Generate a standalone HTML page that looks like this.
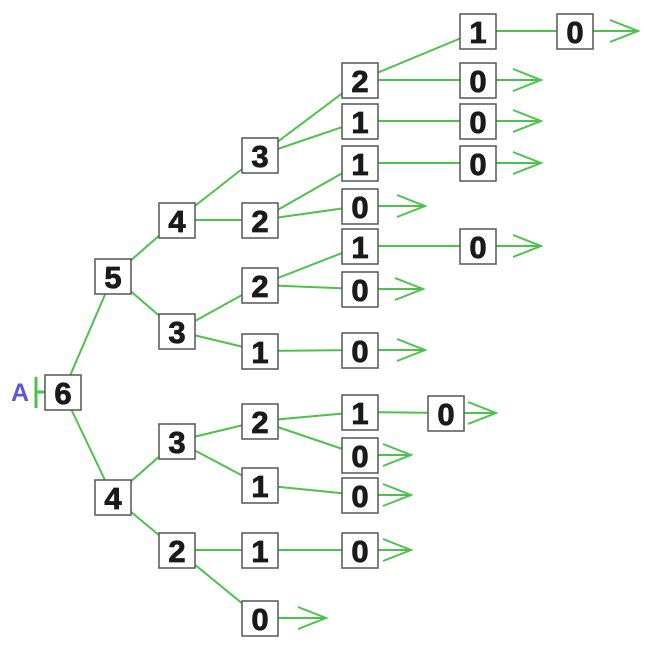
<!DOCTYPE html>
<html><head><style>body{margin:0;background:#fff}svg{display:block}</style></head><body>
<svg width="645" height="647" xmlns="http://www.w3.org/2000/svg">
<g stroke="#4cc24c" stroke-width="2" fill="none" id="e">
<path d="M63 392L113 276M63 392L113 497M113 276L177 220M113 276L177 331M177 220L260 155M177 220L260 220M260 155L360 80M260 155L360 121M360 80L478 31M360 80L478 80M478 31L575 31M360 121L478 121M260 220L360 163M260 220L360 206M360 163L478 163M177 331L260 285M177 331L260 351M260 285L360 246M260 285L360 289M360 246L478 246M260 351L360 350M113 497L177 441M113 497L177 550M177 441L260 421M177 441L260 485M260 421L360 412M260 421L360 455M360 412L446 413M260 485L360 495M177 550L260 550M177 550L260 618M260 550L360 550"/>
<path d="M593 31H638M610 20L638 31L610 42"/>
<path d="M496 80H541M513 69L541 80L513 91"/>
<path d="M496 121H541M513 110L541 121L513 132"/>
<path d="M496 163H541M513 152L541 163L513 174"/>
<path d="M378 206H425M397 195L425 206L397 217"/>
<path d="M496 246H541M513 235L541 246L513 257"/>
<path d="M378 289H423M395 278L423 289L395 300"/>
<path d="M378 350H425M397 339L425 350L397 361"/>
<path d="M464 413H496M468 402L496 413L468 424"/>
<path d="M378 455H411M383 444L411 455L383 466"/>
<path d="M378 495H411M383 484L411 495L383 506"/>
<path d="M378 550H411M383 539L411 550L383 561"/>
<path d="M278 618H326M298 607L326 618L298 629"/>
<path d="M36 377V408M36 392H45" stroke-width="3"/>
</g>
<text x="11" y="401" font-family="Liberation Sans,sans-serif" font-weight="bold" font-size="25" fill="#5a5ad8">A</text>
<g font-family="Liberation Sans,sans-serif" font-weight="bold" font-size="31" fill="#1a1a1a" text-anchor="middle">
<g stroke="#555" stroke-width="1.5" fill="#fff">
<rect x="45" y="375" width="36" height="35"/><rect x="95" y="259" width="36" height="35"/><rect x="95" y="480" width="36" height="35"/>
<rect x="159" y="203" width="36" height="35"/><rect x="159" y="314" width="36" height="35"/><rect x="159" y="424" width="36" height="35"/><rect x="159" y="533" width="36" height="35"/>
<rect x="242" y="138" width="36" height="35"/><rect x="242" y="203" width="36" height="35"/><rect x="242" y="268" width="36" height="35"/><rect x="242" y="334" width="36" height="35"/><rect x="242" y="404" width="36" height="35"/><rect x="242" y="468" width="36" height="35"/><rect x="242" y="533" width="36" height="35"/><rect x="242" y="601" width="36" height="35"/>
<rect x="342" y="63" width="36" height="35"/><rect x="342" y="104" width="36" height="35"/><rect x="342" y="146" width="36" height="35"/><rect x="342" y="189" width="36" height="35"/><rect x="342" y="229" width="36" height="35"/><rect x="342" y="272" width="36" height="35"/><rect x="342" y="333" width="36" height="35"/><rect x="342" y="395" width="36" height="35"/><rect x="342" y="438" width="36" height="35"/><rect x="342" y="478" width="36" height="35"/><rect x="342" y="533" width="36" height="35"/>
<rect x="460" y="14" width="36" height="35"/><rect x="460" y="63" width="36" height="35"/><rect x="460" y="104" width="36" height="35"/><rect x="460" y="146" width="36" height="35"/><rect x="460" y="229" width="36" height="35"/><rect x="428" y="396" width="36" height="35"/>
<rect x="557" y="14" width="36" height="35"/>
</g>
<g stroke="#1a1a1a" stroke-width="0.8">
<text x="63" y="404">6</text><text x="113" y="288">5</text><text x="113" y="509">4</text>
<text x="177" y="232">4</text><text x="177" y="343">3</text><text x="177" y="453">3</text><text x="177" y="562">2</text>
<text x="260" y="167">3</text><text x="260" y="232">2</text><text x="260" y="297">2</text><text x="260" y="363">1</text><text x="260" y="433">2</text><text x="260" y="497">1</text><text x="260" y="562">1</text><text x="260" y="630">0</text>
<text x="360" y="92">2</text><text x="360" y="133">1</text><text x="360" y="175">1</text><text x="360" y="218">0</text><text x="360" y="258">1</text><text x="360" y="301">0</text><text x="360" y="362">0</text><text x="360" y="424">1</text><text x="360" y="467">0</text><text x="360" y="507">0</text><text x="360" y="562">0</text>
<text x="478" y="43">1</text><text x="478" y="92">0</text><text x="478" y="133">0</text><text x="478" y="175">0</text><text x="478" y="258">0</text><text x="446" y="425">0</text>
<text x="575" y="43">0</text>
</g>
</g>
</svg>
</body></html>
